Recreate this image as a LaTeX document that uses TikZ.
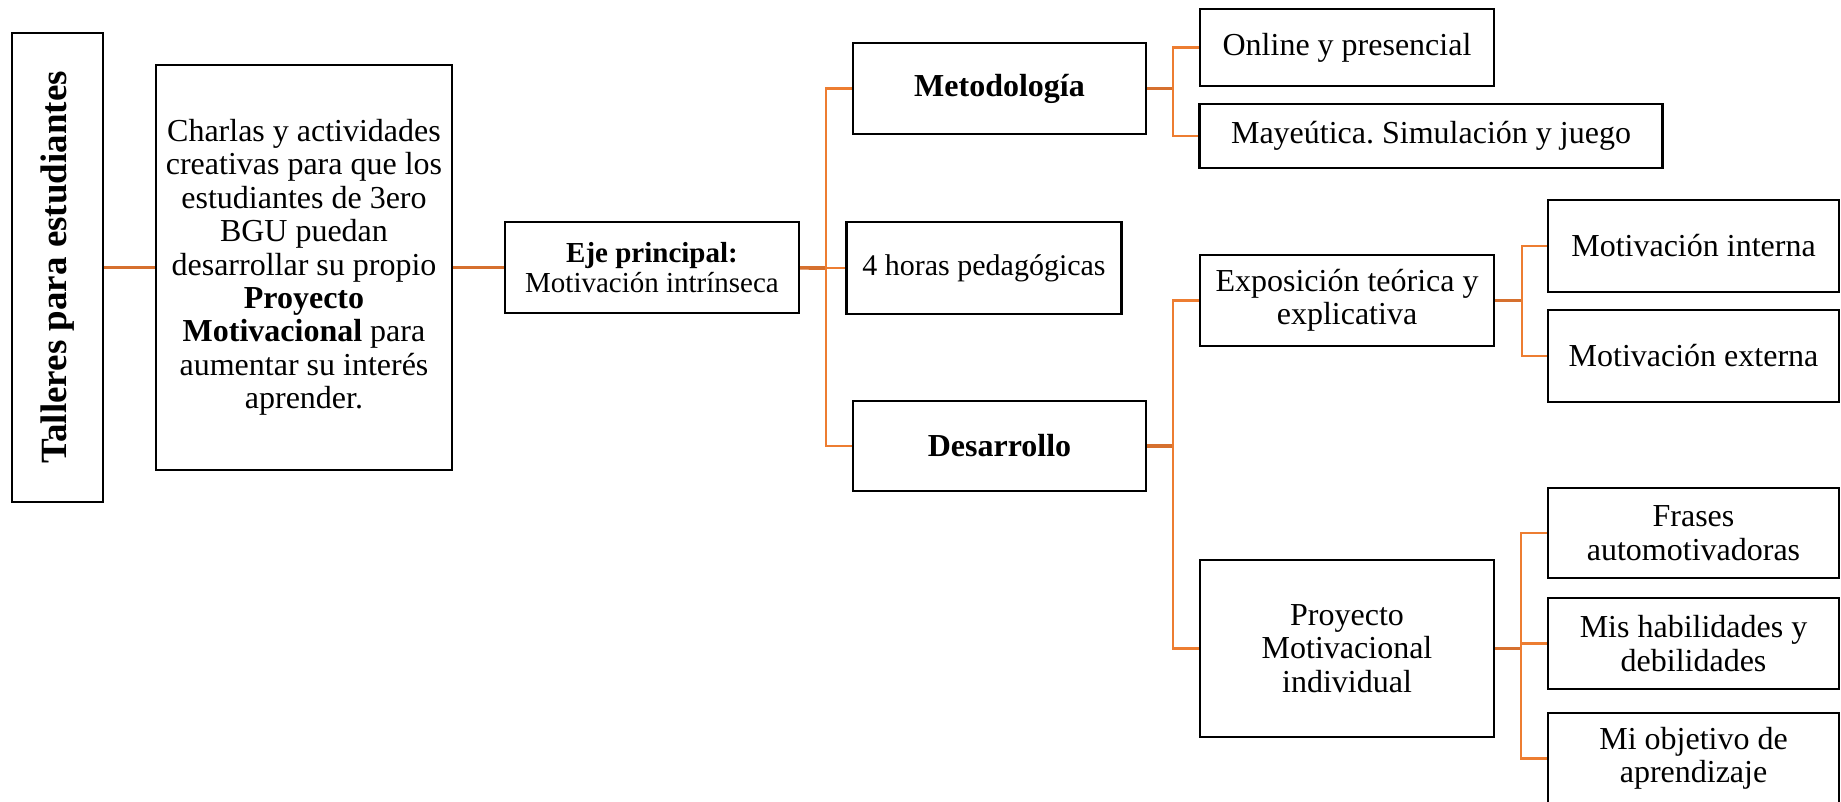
\documentclass[tikz,border=0pt]{standalone}
\usepackage{fontspec}
\setmainfont{Liberation Serif}
\frenchspacing
\definecolor{naranja}{RGB}{237,125,49}
\definecolor{naranjaosc}{RGB}{214,112,46}
\tikzset{
	caja/.style={draw, line width=1.2pt, align=center, inner sep=2pt, font=\fontsize{16}{16.7}\selectfont},
	rama/.style={draw=naranja, line width=1.2pt},
	tronco/.style={draw=naranjaosc, line width=1.8pt}
}
\begin{document}
\begin{tikzpicture}[x=0.5pt,y=-0.5pt]
	\useasboundingbox (0,0) rectangle (1841,802);
	% columna izquierda
	\node[caja, minimum width=45.5pt, minimum height=234.5pt] (taller) at (57.5,267.5) {\rotatebox{90}{\fontsize{18.5}{20}\selectfont\bfseries Talleres para estudiantes}};
	\node[caja, minimum width=148pt, minimum height=202.5pt] (charlas) at (304,267.5) {Charlas y actividades\\ creativas para que los\\ estudiantes de 3ero\hspace*{1em}\\ BGU puedan\\ desarrollar su propio\\ \textbf{Proyecto}\\ \textbf{Motivacional} para\\ aumentar su interés\\ aprender.};
	\node[caja, minimum width=147pt, minimum height=45.5pt, font=\fontsize{14.5}{15}\selectfont] (eje) at (652,267.5) {\textbf{Eje principal:}\\ Motivación intrínseca};
	% segundo nivel
	\node[caja, minimum width=146.5pt, minimum height=45.5pt, font=\fontsize{16}{16.7}\selectfont\bfseries] (metodo) at (999.5,88.5) {Metodología};
	\node[caja, minimum width=137.5pt, minimum height=46pt, font=\fontsize{15}{16}\selectfont] (horas) at (984,268) {4 horas pedagógicas};
	\node[caja, minimum width=146.5pt, minimum height=45pt, font=\fontsize{16}{16.7}\selectfont\bfseries] (desarrollo) at (999.5,446) {Desarrollo};
	% tercer nivel
	\node[caja, minimum width=147pt, minimum height=38.5pt] (online) at (1347,47.5) {Online y presencial};
	\node[caja, minimum width=231.5pt, minimum height=32pt] (mayeutica) at (1431,136) {Mayeútica. Simulación y juego};
	\node[caja, minimum width=147pt, minimum height=45.5pt] (exposicion) at (1347,300.5) {Exposición teórica y\\ explicativa};
	\node[caja, minimum width=147pt, minimum height=88.5pt] (proyecto) at (1347,648.5) {Proyecto\\ Motivacional\\ individual};
	% cuarto nivel
	\node[caja, minimum width=145.5pt, minimum height=46pt] (interna) at (1693.5,246) {Motivación interna};
	\node[caja, minimum width=145.5pt, minimum height=46pt] (externa) at (1693.5,356) {Motivación externa};
	\node[caja, minimum width=145.5pt, minimum height=45pt] (frases) at (1693.5,533) {Frases\\ automotivadoras};
	\node[caja, minimum width=145.5pt, minimum height=45.5pt] (habilidades) at (1693.5,643.5) {Mis habilidades y\\ debilidades};
	\node[caja, minimum width=145.5pt, minimum height=45.5pt] (objetivo) at (1693.5,758.5) {Mi objetivo de\\ aprendizaje};
	% conectores
	\coordinate (t1) at (826,268);
	\coordinate (t2) at (1173,88.5);
	\coordinate (t3) at (1173,446);
	\coordinate (t4) at (1522,300.5);
	\coordinate (t5) at (1521,648.5);
	\draw[tronco] (taller) -- (charlas);
	\draw[tronco] (charlas) -- (eje);
	\draw[tronco] (eje) -- (t1);
	\draw[rama] (metodo.west) -| (t1) |- (desarrollo.west);
	\draw[rama] (t1) -- (horas.west);
	\draw[tronco] (metodo) -- (t2);
	\draw[rama] (online.west) -| (t2) |- (mayeutica.west);
	\draw[tronco] (desarrollo) -- (t3);
	\draw[rama] (exposicion.west) -| (t3) |- (proyecto.west);
	\draw[tronco] (exposicion) -- (t4);
	\draw[rama] (interna.west) -| (t4) |- (externa.west);
	\draw[tronco] (proyecto) -- (t5);
	\draw[rama] (frases.west) -| (t5) |- (objetivo.west);
	\draw[rama] (t5) |- (habilidades.west);
\end{tikzpicture}
\end{document}
